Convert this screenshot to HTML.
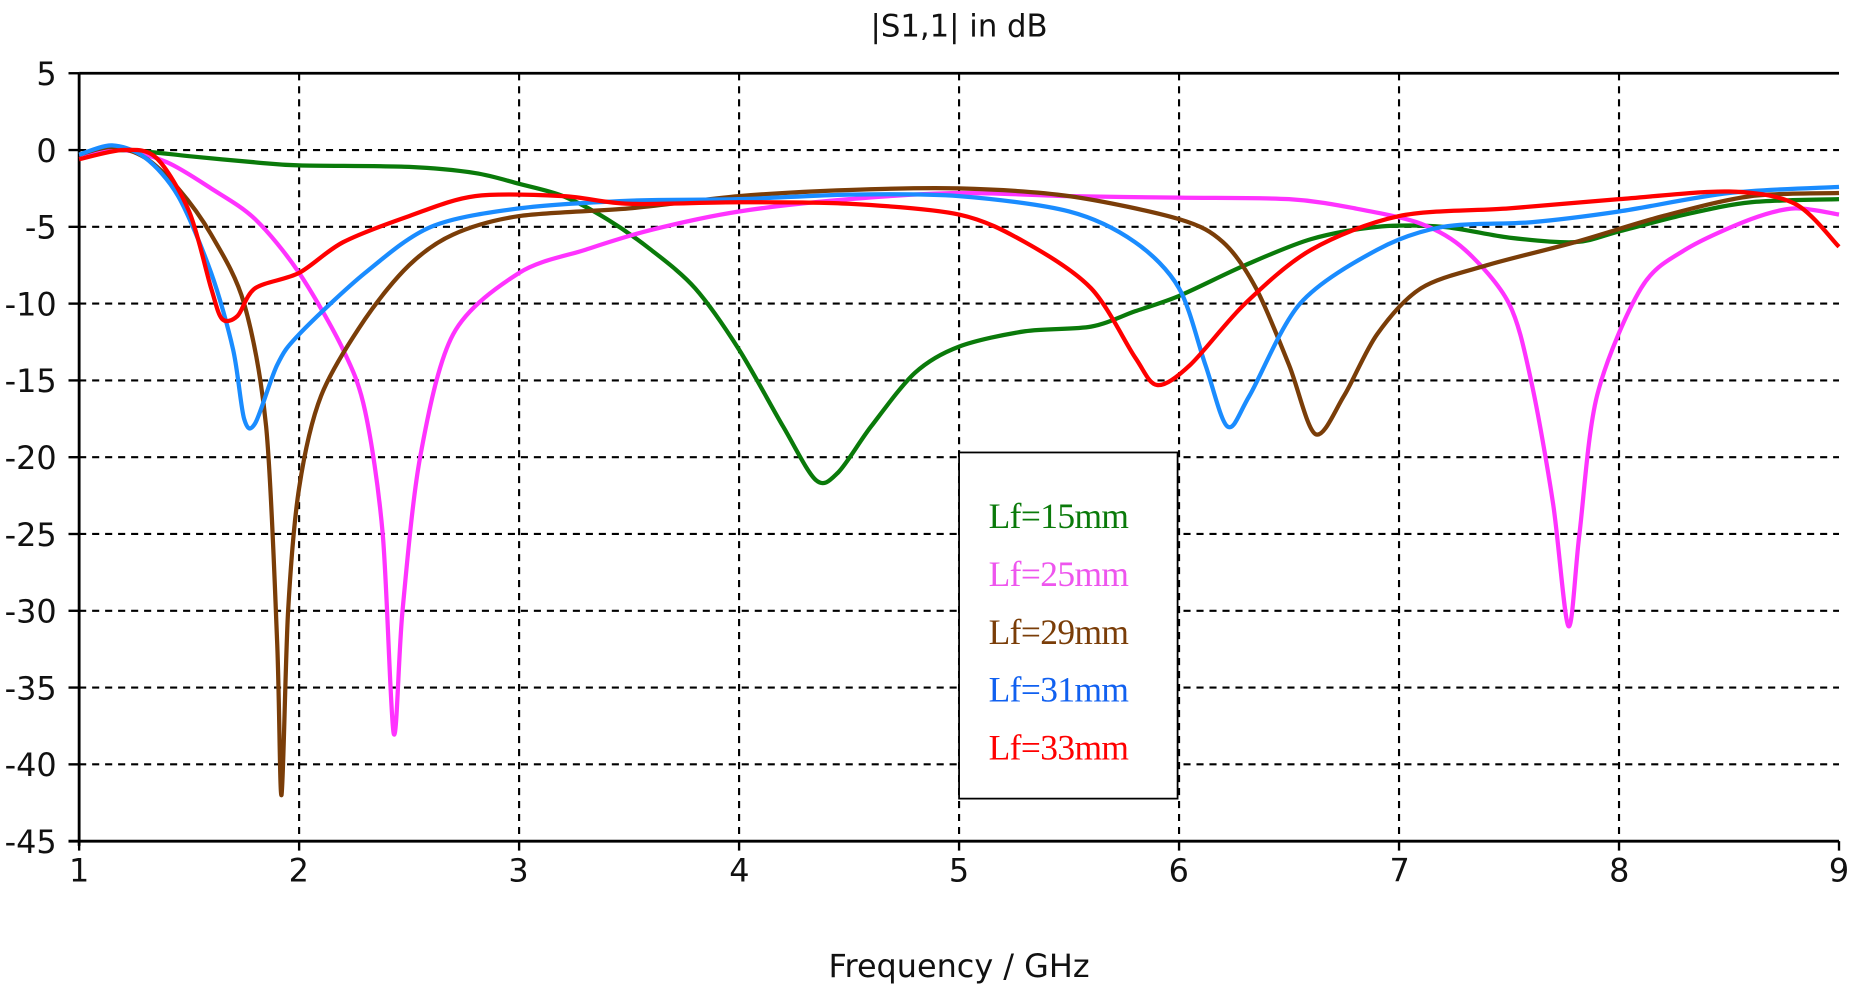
<!DOCTYPE html>
<html><head><meta charset="utf-8"><style>html,body{margin:0;padding:0;background:#fff}svg{display:block}</style></head>
<body>
<svg id="s" width="1852" height="990" viewBox="0 0 1568 838" preserveAspectRatio="none" xmlns="http://www.w3.org/2000/svg">
<rect width="1568" height="838" fill="#fff"/>
<g id="grid" stroke="#000" stroke-width="1.8" stroke-dasharray="6,5" fill="none"></g>
<g stroke="#000" stroke-width="2.4" fill="none">
<line x1="67" y1="62" x2="1557" y2="62"/>
<line x1="67" y1="62" x2="67" y2="716"/>
<line x1="58" y1="712" x2="1557" y2="712"/>
</g>
<g id="ticks" stroke="#000" stroke-width="2"></g>
<g id="curves" fill="none" stroke-width="3.6" stroke-linejoin="round"></g>
<g font-family="'DejaVu Sans','Liberation Sans',sans-serif" font-size="27" fill="#111" text-anchor="end">
<text x="48" y="72">5</text><text x="48" y="137">0</text><text x="48" y="202">-5</text><text x="48" y="267">-10</text><text x="48" y="332">-15</text><text x="48" y="397">-20</text><text x="48" y="462">-25</text><text x="48" y="527">-30</text><text x="48" y="592">-35</text><text x="48" y="657">-40</text><text x="48" y="722">-45</text>
</g>
<g font-family="'DejaVu Sans','Liberation Sans',sans-serif" font-size="27" fill="#111" text-anchor="middle">
<text x="67" y="746">1</text><text x="253" y="746">2</text><text x="439" y="746">3</text><text x="626" y="746">4</text><text x="812" y="746">5</text><text x="998" y="746">6</text><text x="1185" y="746">7</text><text x="1371" y="746">8</text><text x="1557" y="746">9</text>
<text x="812" y="827">Frequency / GHz</text>
<text x="812" y="31" font-size="26">|S1,1| in dB</text>
</g>
<rect x="812" y="383" width="185" height="293" fill="#fff" stroke="#000" stroke-width="1.5"/>
<g font-family="'Liberation Serif',serif" font-size="30" letter-spacing="-0.5">
<text x="837" y="447" fill="#0a7a0a">Lf=15mm</text>
<text x="837" y="496" fill="#ee55ee">Lf=25mm</text>
<text x="837" y="545" fill="#7a3d08">Lf=29mm</text>
<text x="837" y="594" fill="#1060f0">Lf=31mm</text>
<text x="837" y="643" fill="#ff0000">Lf=33mm</text>
</g>
</svg>
<script>
const X=f=>67+186.25*(f-1), Y=d=>127-13*d, NS="http://www.w3.org/2000/svg";
const g=document.getElementById('grid'),t=document.getElementById('ticks'),c=document.getElementById('curves');
function ln(p,a){const l=document.createElementNS(NS,'line');for(const k in a)l.setAttribute(k,a[k]);p.appendChild(l);}
for(let f=2;f<=8;f++)ln(g,{x1:X(f),y1:62,x2:X(f),y2:712});
for(let d=0;d>=-40;d-=5)ln(g,{x1:67,y1:Y(d),x2:1557,y2:Y(d)});
for(let d=5;d>=-45;d-=5)ln(t,{x1:58,y1:Y(d),x2:67,y2:Y(d)});
for(let f=1;f<=9;f++)ln(t,{x1:X(f),y1:712,x2:X(f),y2:720});
const S={
"#0a7a0a":[1,-0.3,1.1,0,1.3,-0.1,1.5,-0.4,1.8,-0.8,2,-1.0,2.5,-1.1,2.8,-1.5,3,-2.2,3.2,-3.0,3.4,-4.5,3.6,-6.5,3.8,-9,4.0,-13,4.2,-18,4.35,-21.5,4.45,-21,4.6,-18,4.8,-14.5,5,-12.8,5.3,-11.8,5.6,-11.5,5.8,-10.5,6,-9.5,6.3,-7.5,6.6,-5.8,6.9,-5,7.2,-5,7.5,-5.7,7.8,-6.0,8,-5.3,8.3,-4.2,8.6,-3.4,9,-3.2],
"#ff33ff":[1,-0.3,1.2,0,1.4,-0.8,1.6,-2.5,1.8,-4.5,2,-8,2.2,-13,2.3,-17,2.38,-25,2.43,-38,2.47,-30,2.55,-20,2.7,-12,3,-8,3.3,-6.5,3.6,-5.2,4,-4,4.5,-3.2,5,-2.8,5.5,-3,6,-3.1,6.5,-3.2,6.8,-3.8,7.1,-4.8,7.3,-6.5,7.5,-10,7.6,-15,7.7,-23,7.77,-31,7.82,-25,7.9,-16,8.1,-9,8.3,-6.5,8.6,-4.5,8.8,-3.8,9,-4.2],
"#7a3d08":[1,-0.3,1.15,0.2,1.3,-0.5,1.45,-2.5,1.6,-5.5,1.75,-10,1.85,-18,1.9,-32,1.92,-42,1.95,-30,2,-22,2.1,-16,2.3,-11,2.5,-7.5,2.7,-5.5,3,-4.3,3.5,-3.8,4,-3,4.5,-2.6,5,-2.5,5.5,-3,6,-4.5,6.2,-6,6.35,-9,6.5,-14,6.62,-18.5,6.75,-16,6.9,-12,7.1,-9,7.4,-7.5,7.8,-6,8.2,-4.3,8.6,-3,9,-2.8],
"#1a8cff":[1,-0.3,1.15,0.3,1.3,-0.5,1.45,-3,1.6,-8,1.7,-13,1.75,-17.5,1.8,-17.8,1.9,-14,2,-12,2.3,-8,2.6,-5,3,-3.8,3.5,-3.3,4,-3.2,4.5,-2.9,5,-3,5.5,-4,5.8,-6,6,-9,6.12,-14,6.22,-18,6.32,-16,6.55,-10,6.9,-6.5,7.2,-5,7.6,-4.7,8,-4,8.5,-2.8,9,-2.4],
"#ff0000":[1,-0.6,1.2,0,1.35,-0.5,1.5,-4,1.6,-9,1.65,-11,1.72,-10.8,1.8,-9,2,-8,2.2,-6,2.5,-4.3,2.8,-3,3.2,-3,3.5,-3.5,4,-3.4,4.5,-3.5,5,-4.2,5.3,-6,5.6,-9,5.8,-13.5,5.9,-15.3,6.05,-14,6.3,-10,6.6,-6.5,7,-4.3,7.5,-3.8,8,-3.2,8.5,-2.7,8.8,-3.5,9,-6.3]};
for(const col in S){const a=S[col],p=[];for(let i=0;i<a.length;i+=2)p.push([X(a[i]),Y(a[i+1])]);
let d='M'+p[0][0]+','+p[0][1];
for(let i=0;i<p.length-1;i++){const p0=p[Math.max(0,i-1)],p1=p[i],p2=p[i+1],p3=p[Math.min(p.length-1,i+2)];const k=0.15;
d+=` C${p1[0]+(p2[0]-p0[0])*k},${p1[1]+(p2[1]-p0[1])*k} ${p2[0]-(p3[0]-p1[0])*k},${p2[1]-(p3[1]-p1[1])*k} ${p2[0]},${p2[1]}`;}
const pa=document.createElementNS(NS,'path');pa.setAttribute('d',d);pa.setAttribute('stroke',col);c.appendChild(pa);}
</script>
</body></html>
